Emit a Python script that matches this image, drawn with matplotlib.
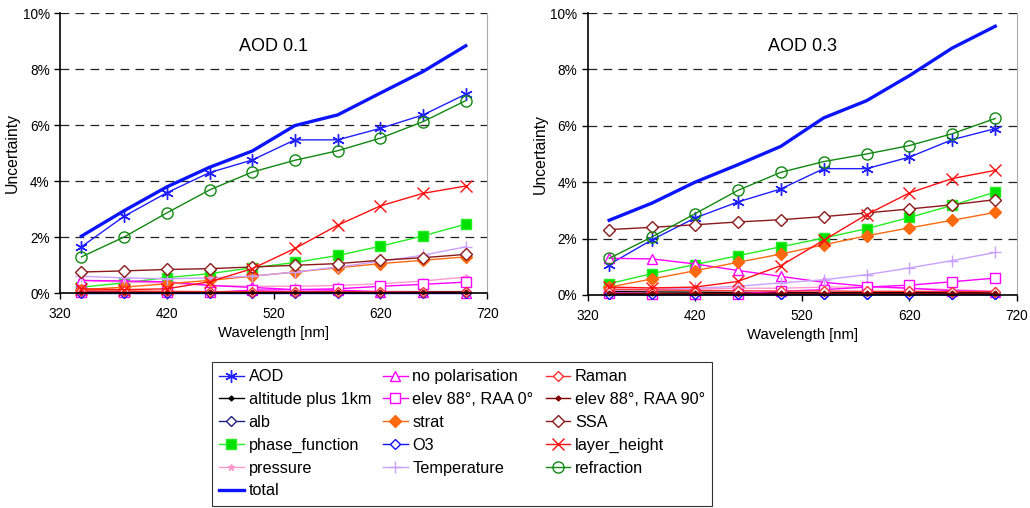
import numpy as np
import matplotlib
matplotlib.use("Agg")
import matplotlib.pyplot as plt
from matplotlib.ticker import FuncFormatter

plt.rcParams['font.family'] = ['Liberation Sans', 'DejaVu Sans']

wavelength = [340, 380, 420, 460, 500, 540, 580, 620, 660, 700]

# AOD 0.1 (uncertainty in %)
aod_01 = [1.65, 2.74, 3.58, 4.30, 4.75, 5.47, 5.47, 5.88, 6.36, 7.10]
altitude_01 = [0.04, 0.04, 0.04, 0.04, 0.04, 0.04, 0.04, 0.05, 0.05, 0.05]
alb_01 = [0.02, 0.02, 0.02, 0.02, 0.02, 0.02, 0.02, 0.02, 0.02, 0.02]
phase_01 = [0.21, 0.36, 0.55, 0.69, 0.90, 1.09, 1.34, 1.67, 2.04, 2.46]
pressure_01 = [0.45, 0.39, 0.36, 0.27, 0.24, 0.24, 0.27, 0.33, 0.43, 0.57]
total_01 = [2.03, 2.94, 3.79, 4.49, 5.07, 5.98, 6.36, 7.14, 7.91, 8.83]
nopol_01 = [0.45, 0.43, 0.40, 0.27, 0.20, 0.12, 0.10, 0.05, 0.02, 0.00]
elev0_01 = [0.03, 0.02, 0.02, 0.02, 0.10, 0.12, 0.15, 0.24, 0.31, 0.39]
strat_01 = [0.12, 0.21, 0.33, 0.45, 0.60, 0.75, 0.90, 1.05, 1.17, 1.29]
o3_01 = [0.01, 0.01, 0.01, 0.01, 0.01, 0.01, 0.01, 0.01, 0.01, 0.01]
temp_01 = [0.60, 0.54, 0.51, 0.54, 0.60, 0.75, 0.93, 1.13, 1.35, 1.65]
raman_01 = [0.08, 0.07, 0.06, 0.05, 0.05, 0.04, 0.04, 0.04, 0.03, 0.03]
elev90_01 = [0.03, 0.03, 0.03, 0.03, 0.03, 0.03, 0.03, 0.03, 0.03, 0.03]
ssa_01 = [0.75, 0.79, 0.84, 0.87, 0.93, 0.99, 1.05, 1.17, 1.26, 1.38]
layer_01 = [0.15, 0.12, 0.15, 0.40, 0.87, 1.59, 2.42, 3.11, 3.56, 3.82]
refr_01 = [1.29, 2.00, 2.86, 3.68, 4.32, 4.74, 5.08, 5.53, 6.12, 6.87]

# AOD 0.3 (uncertainty in %)
aod_03 = [1.08, 1.96, 2.73, 3.30, 3.76, 4.48, 4.48, 4.89, 5.51, 5.90]
altitude_03 = [0.12, 0.11, 0.10, 0.09, 0.08, 0.08, 0.08, 0.09, 0.09, 0.10]
alb_03 = [0.04, 0.04, 0.04, 0.04, 0.04, 0.04, 0.04, 0.04, 0.04, 0.04]
phase_03 = [0.40, 0.76, 1.08, 1.39, 1.71, 2.02, 2.35, 2.75, 3.18, 3.65]
pressure_03 = [0.21, 0.21, 0.21, 0.24, 0.24, 0.28, 0.28, 0.24, 0.19, 0.13]
total_03 = [2.65, 3.26, 4.00, 4.62, 5.27, 6.28, 6.89, 7.78, 8.76, 9.53]
nopol_03 = [1.30, 1.28, 1.10, 0.87, 0.66, 0.45, 0.31, 0.24, 0.15, 0.12]
elev0_03 = [0.07, 0.05, 0.03, 0.05, 0.13, 0.19, 0.28, 0.35, 0.47, 0.60]
strat_03 = [0.28, 0.57, 0.86, 1.16, 1.45, 1.78, 2.10, 2.38, 2.65, 2.93]
o3_03 = [0.02, 0.02, 0.02, 0.02, 0.02, 0.02, 0.02, 0.02, 0.02, 0.02]
temp_03 = [0.17, 0.19, 0.24, 0.31, 0.43, 0.54, 0.72, 0.96, 1.22, 1.51]
raman_03 = [0.20, 0.18, 0.16, 0.15, 0.14, 0.14, 0.13, 0.13, 0.12, 0.12]
elev90_03 = [0.08, 0.08, 0.08, 0.08, 0.08, 0.08, 0.08, 0.08, 0.08, 0.08]
ssa_03 = [2.32, 2.40, 2.49, 2.59, 2.67, 2.78, 2.91, 3.05, 3.20, 3.38]
layer_03 = [0.28, 0.25, 0.28, 0.48, 1.04, 1.94, 2.85, 3.62, 4.13, 4.42]
refr_03 = [1.30, 2.06, 2.88, 3.71, 4.35, 4.73, 5.00, 5.30, 5.72, 6.26]

labels = ['AOD', 'altitude plus 1km', 'alb', 'phase_function', 'pressure', 'total',
          'no polarisation', 'elev 88°, RAA 0°', 'strat', 'O3', 'Temperature',
          'Raman', 'elev 88°, RAA 90°', 'SSA', 'layer_height', 'refraction']

series_01 = [aod_01, altitude_01, alb_01, phase_01, pressure_01, total_01,
             nopol_01, elev0_01, strat_01, o3_01, temp_01,
             raman_01, elev90_01, ssa_01, layer_01, refr_01]
series_03 = [aod_03, altitude_03, alb_03, phase_03, pressure_03, total_03,
             nopol_03, elev0_03, strat_03, o3_03, temp_03,
             raman_03, elev90_03, ssa_03, layer_03, refr_03]

# line colour, marker, marker face, marker size, line width
styles = {
    'AOD': ('#1f1fff', (6, 2, 0), 'none', 9, 1.0),
    'altitude plus 1km': ('#000000', 'D', '#000000', 2.5, 1.0),
    'alb': ('#202080', 'D', 'white', 5, 1.0),
    'phase_function': ('#22ee22', 's', '#00e000', 7, 1.0),
    'pressure': ('#ff99cc', '*', '#ff99cc', 5, 1.0),
    'total': ('#0a14ff', 'None', 'none', 0, 2.4),
    'no polarisation': ('#ff00ff', '^', 'white', 7, 1.0),
    'elev 88°, RAA 0°': ('#ff00ff', 's', 'white', 7, 1.0),
    'strat': ('#ff6a10', 'D', '#ff6a10', 6, 1.0),
    'O3': ('#1010ff', 'D', 'white', 5, 1.0),
    'Temperature': ('#c9a0ff', '+', '#c9a0ff', 8, 1.0),
    'Raman': ('#ff3030', 'D', 'white', 5, 1.0),
    'elev 88°, RAA 90°': ('#800000', 'D', '#800000', 2.5, 1.0),
    'SSA': ('#8b1a1a', 'D', 'white', 6, 1.0),
    'layer_height': ('#ff1010', 'x', '#ff1010', 8, 1.0),
    'refraction': ('#118811', 'o', 'none', 8, 1.0),
}

fig = plt.figure(figsize=(10.3, 5.08), dpi=100)
ax1 = fig.add_axes([0.0583, 0.4232, 0.4146, 0.5512])
ax2 = fig.add_axes([0.5706, 0.4193, 0.4165, 0.5551])

pct = FuncFormatter(lambda v, p: '%d%%' % v)

for ax, data, title in [(ax1, series_01, 'AOD 0.1'), (ax2, series_03, 'AOD 0.3')]:
    handles = []
    for name, vals in zip(labels, data):
        col, mk, mf, ms, lw = styles[name]
        h, = ax.plot(wavelength, vals, color=col, marker=mk, markerfacecolor=mf,
                     markeredgecolor=col, markersize=ms, linewidth=lw,
                     markeredgewidth=1.0, label=name, clip_on=False)
        handles.append(h)
    ax.set_xlim(320, 720)
    ax.set_ylim(0, 10)
    ax.set_xticks([320, 420, 520, 620, 720])
    ax.set_yticks([0, 2, 4, 6, 8, 10])
    ax.yaxis.set_major_formatter(pct)
    ax.grid(axis='y', color='#222222', linestyle=(0, (7, 5)), linewidth=0.9)
    ax.set_axisbelow(True)
    ax.spines['top'].set_visible(False)
    ax.spines['right'].set_color('#aaaaaa')
    ax.spines['left'].set_linewidth(1.2)
    ax.spines['bottom'].set_linewidth(1.2)
    ax.tick_params(labelsize=9.8, length=4, width=1, direction='out')
    ax.tick_params(axis='x', pad=6)
    ax.set_xlabel('Wavelength [nm]', fontsize=10.7, labelpad=4)
    ax.set_ylabel('Uncertainty', fontsize=11.3, labelpad=2)
    ax.text(520, 8.8, title, fontsize=13, ha='center', va='center')

leg = fig.legend(handles, labels, ncol=3, loc='upper left',
                 bbox_to_anchor=(0.2058, 0.2874),
                 fontsize=11.7, frameon=True, fancybox=False, edgecolor='black',
                 handlelength=1.5, handletextpad=0.3, labelspacing=0.48,
                 borderaxespad=0, borderpad=0.45, columnspacing=0.75)
leg.get_frame().set_linewidth(0.8)

fig.savefig('out.png', dpi=100)
